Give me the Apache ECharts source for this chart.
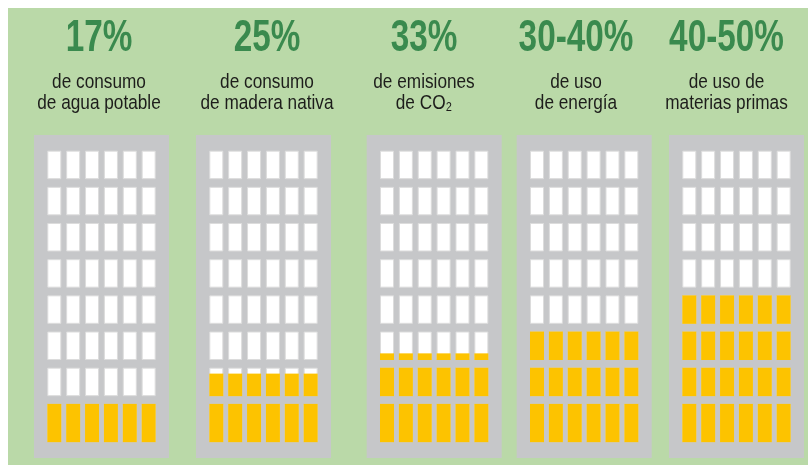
<!DOCTYPE html>
<html>
<head>
<meta charset="utf-8">
<script src="https://cdn.jsdelivr.net/npm/echarts@6/dist/echarts.min.js"></script>
<style>
  html, body { margin: 0; padding: 0; background: #ffffff; }
  #main { position: absolute; left: 8px; top: 8px; width: 800px; height: 457px; }
</style>
</head>
<body>
<div id="main"></div>
<script>
// data
var percents = ['17%', '25%', '33%', '30-40%', '40-50%'];
var captions = [
  'de consumo\nde agua potable',
  'de consumo\nde madera nativa',
  'de emisiones\nde CO\u2082',
  'de uso\nde energía',
  'de uso de\nmaterias primas'
];
// how high the yellow reaches, in floors
var fillLevels = [1, 1.73, 2.29, 3, 4];
var floorCount = 8;
var windowCount = 6;

// layout
var buildingLeft = [26, 188, 358.7, 508.7, 661];
var labelCenter = [91, 259, 416, 568, 718.5];
// Liberation Sans squeezed horizontally, close to a condensed face
var fontFamily = '"Liberation Sans", Arial, sans-serif';

var chartDom = document.getElementById('main');
var myChart = echarts.init(chartDom);
var option;

function renderWindow(params, api) {
  var col = api.value(0);
  var row = api.value(1);
  var level = api.value(2);
  var x0 = col + 0.155;
  var x1 = col + 0.845;
  var y0 = row === 0 ? -0.152 : row + 0.12; // ground floor is taller
  var y1 = row + 0.88;
  var bl = api.coord([x0, y0]);
  var tr = api.coord([x1, y1]);
  var children = [{
    type: 'rect',
    shape: { x: bl[0], y: tr[1], width: tr[0] - bl[0], height: bl[1] - tr[1] },
    style: { fill: '#ffffff', stroke: '#dcdcdc', lineWidth: 1 }
  }];
  if (level > y0) {
    var top = api.coord([x0, Math.min(level, y1)]);
    var full = level >= y1;
    children.push({
      type: 'rect',
      shape: {
        x: bl[0] - 0.5,
        y: top[1] - (full ? 0.5 : 0),
        width: tr[0] - bl[0] + 1,
        height: bl[1] - top[1] + (full ? 1 : 0.5)
      },
      style: { fill: '#fdc300' }
    });
  }
  return { type: 'group', children: children };
}

var grids = [], xAxes = [], yAxes = [], series = [], texts = [];
percents.forEach(function (p, i) {
  grids.push({
    left: buildingLeft[i], top: 127, width: 135, height: 323,
    show: true, backgroundColor: '#c6c7c9', borderWidth: 0
  });
  xAxes.push({ type: 'value', gridIndex: i, min: -0.576, max: 6.578, show: false });
  yAxes.push({ type: 'value', gridIndex: i, min: -0.603, max: 8.327, show: false });
  var cells = [];
  for (var r = 0; r < floorCount; r++) {
    for (var c = 0; c < windowCount; c++) {
      cells.push([c, r, fillLevels[i]]);
    }
  }
  series.push({
    name: p,
    type: 'custom',
    xAxisIndex: i,
    yAxisIndex: i,
    silent: true,
    clip: false,
    renderItem: renderWindow,
    data: cells
  });
  texts.push({
    type: 'text',
    x: labelCenter[i],
    y: 31,
    scaleX: 0.74,
    style: {
      text: p,
      fill: '#3a8a4e',
      font: 'bold 45px ' + fontFamily,
      textAlign: 'center',
      textVerticalAlign: 'middle'
    }
  });
  texts.push({
    type: 'text',
    x: labelCenter[i],
    y: 85.2,
    scaleX: 0.84,
    style: {
      text: captions[i],
      fill: '#1d1d1b',
      font: '20.5px ' + fontFamily,
      lineHeight: 21,
      textAlign: 'center',
      textVerticalAlign: 'middle'
    }
  });
});

option = {
  backgroundColor: '#bad9a8',
  animation: false,
  grid: grids,
  xAxis: xAxes,
  yAxis: yAxes,
  series: series,
  graphic: { elements: texts }
};

option && myChart.setOption(option);
</script>
</body>
</html>
